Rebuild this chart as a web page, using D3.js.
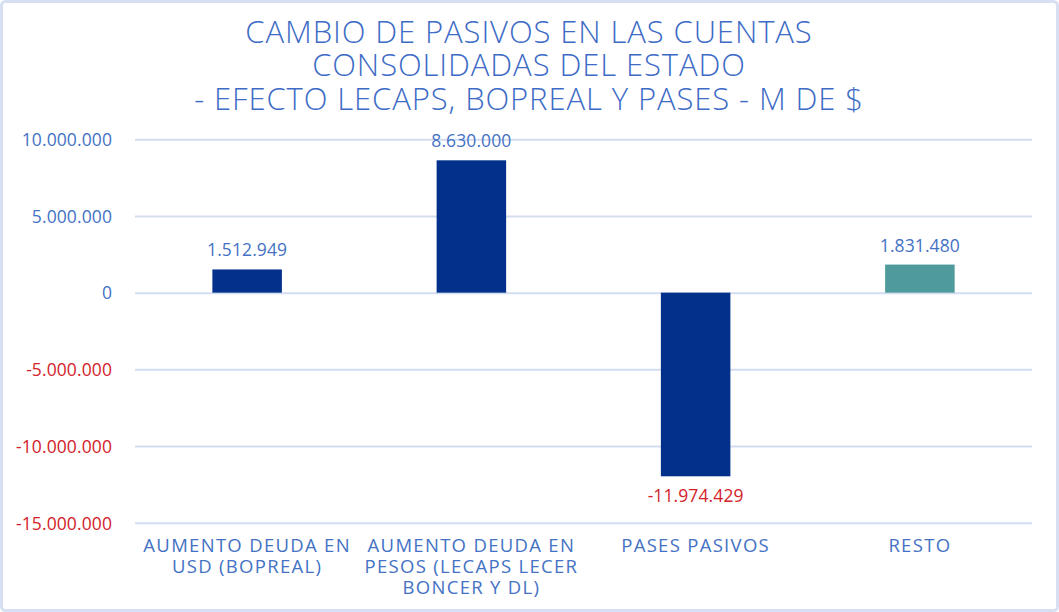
<!DOCTYPE html>
<html>
<head>
<meta charset="utf-8">
<script src="https://cdn.jsdelivr.net/npm/d3@7"></script>
<style>
  html, body { margin: 0; padding: 0; background: #ffffff; }
  svg { display: block; }
  text { font-family: "Open Sans", "DejaVu Sans", sans-serif; }
</style>
</head>
<body>
<svg id="chart" width="1059" height="612"></svg>
<script>
// ---- Data ----
const titleLines = [
  "CAMBIO DE PASIVOS EN LAS CUENTAS",
  "CONSOLIDADAS DEL ESTADO",
  "- EFECTO LECAPS, BOPREAL Y PASES - M DE $"
];
const categories = ["bopreal", "pesos", "pases", "resto"];
const categoryLabels = [
  ["AUMENTO DEUDA EN", "USD (BOPREAL)"],
  ["AUMENTO DEUDA EN", "PESOS (LECAPS LECER", "BONCER Y DL)"],
  ["PASES PASIVOS"],
  ["RESTO"]
];
const values = [1512949, 8630000, -11974429, 1831480];
const valueLabels = ["1.512.949", "8.630.000", "-11.974.429", "1.831.480"];
const barColors = ["#03308a", "#03308a", "#03308a", "#4f9b9b"];
const yTicks = [-15000000, -10000000, -5000000, 0, 5000000, 10000000];
const yTickLabels = ["-15.000.000", "-10.000.000", "-5.000.000", "0", "5.000.000", "10.000.000"];

// ---- Styles ----
const blue = "#4472c4";
const titleBlue = "#3d6bc6";
const red = "#d3222a";
const gridColor = "#d3ddf0";

const svg = d3.select("#chart");
const W = 1059, H = 612;

// frame
svg.append("rect")
  .attr("x", 1.5).attr("y", 1.5)
  .attr("width", W - 3).attr("height", H - 3)
  .attr("rx", 4)
  .attr("fill", "#ffffff")
  .attr("stroke", "#d6e0f2")
  .attr("stroke-width", 3);

const plot = { left: 135, right: 1032, top: 139.3, bottom: 522.7 };

const x = d3.scaleBand()
  .domain(categories)
  .range([plot.left, plot.right])
  .paddingInner(0.69)
  .paddingOuter(0.345);

const y = d3.scaleLinear()
  .domain([-15000000, 10000000])
  .range([plot.bottom, plot.top]);

// title
const title = svg.append("text")
  .attr("text-anchor", "middle")
  .attr("fill", titleBlue)
  .attr("font-size", 31)
  .attr("font-weight", 300)
  .attr("letter-spacing", 0.9);
title.selectAll("tspan")
  .data(titleLines)
  .join("tspan")
  .attr("x", 529)
  .attr("y", (d, i) => 42.7 + i * 33.6)
  .text(d => d);

// y axis (gridlines + labels)
const yAxis = d3.axisLeft(y)
  .tickValues(yTicks)
  .tickSize(-(plot.right - plot.left))
  .tickPadding(23)
  .tickFormat(d => yTickLabels[yTicks.indexOf(d)]);

const gy = svg.append("g")
  .attr("transform", `translate(${plot.left},0)`)
  .call(yAxis);
gy.select(".domain").remove();
gy.selectAll(".tick line")
  .attr("stroke", gridColor)
  .attr("stroke-width", 2);
gy.selectAll(".tick text")
  .attr("font-size", 17.5)
  .attr("font-weight", 400)
  .attr("letter-spacing", 0.1)
  .attr("dy", "0.36em")
  .attr("fill", d => d < 0 ? red : blue);

// bars
svg.append("g")
  .selectAll("rect")
  .data(values)
  .join("rect")
  .attr("x", (d, i) => x(categories[i]))
  .attr("width", x.bandwidth())
  .attr("y", d => y(Math.max(0, d)))
  .attr("height", d => Math.abs(y(d) - y(0)))
  .attr("fill", (d, i) => barColors[i]);

// value labels
svg.append("g")
  .selectAll("text")
  .data(values)
  .join("text")
  .attr("x", (d, i) => x(categories[i]) + x.bandwidth() / 2)
  .attr("y", d => d >= 0 ? y(d) - 13 : y(d) + 26)
  .attr("text-anchor", "middle")
  .attr("font-size", 17.5)
  .attr("font-weight", 400)
  .attr("letter-spacing", 0.1)
  .attr("fill", d => d < 0 ? red : blue)
  .text((d, i) => valueLabels[i]);

// category labels
const cat = svg.append("g")
  .selectAll("text")
  .data(categoryLabels)
  .join("text")
  .attr("text-anchor", "middle")
  .attr("font-size", 18.5)
  .attr("font-weight", 400)
  .attr("letter-spacing", 1.3)
  .attr("fill", blue);
cat.selectAll("tspan")
  .data((d, i) => d.map(line => ({ line, i })))
  .join("tspan")
  .attr("x", d => x(categories[d.i]) + x.bandwidth() / 2)
  .attr("y", (d, j) => 551.7 + j * 21.2)
  .text(d => d.line);
</script>
</body>
</html>
